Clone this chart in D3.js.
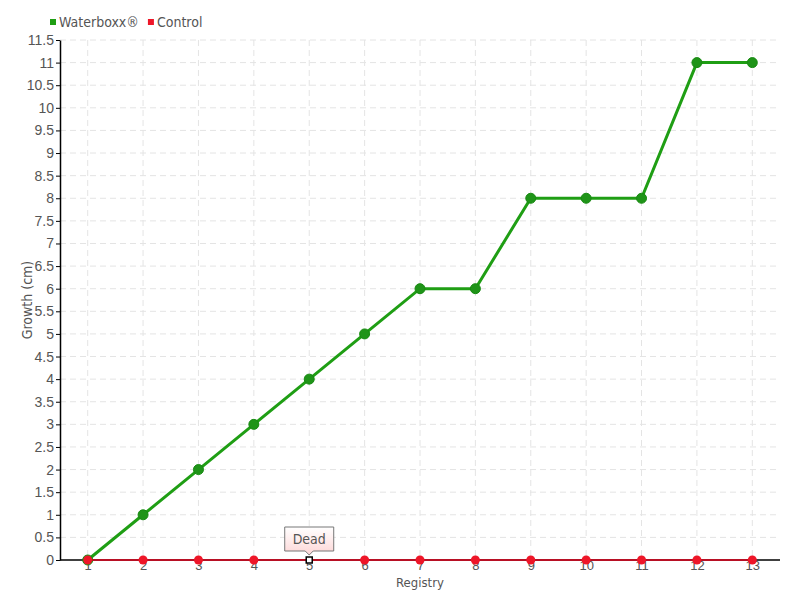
<!DOCTYPE html>
<meta charset="utf-8">
<style>
  body { margin: 0; background: #fff; }
  svg { font-family: "DejaVu Sans", sans-serif; font-stretch: condensed; }
  .grid line { stroke: #e4e4e4; stroke-dasharray: 6,4; }
  .axis text { fill: #555; font-size: 14px; }
  .axis path, .axis line { stroke: #000; }
</style>
<body>
<script src="https://d3js.org/d3.v7.min.js"></script>
<script>
var registry = [1, 2, 3, 4, 5, 6, 7, 8, 9, 10, 11, 12, 13];
var waterboxx = [0, 1, 2, 3, 4, 5, 6, 6, 8, 8, 8, 11, 11];
var control = [0, 0, 0, 0, 0, 0, 0, 0, 0, 0, 0, 0, 0];
var yTicks = d3.range(0, 11.51, 0.5);
var deadAt = 5;

var width = 800, height = 600;
var margin = {top: 40, right: 20, bottom: 40, left: 60};

var svg = d3.select("body").append("svg")
    .attr("width", width).attr("height", height);

var x = d3.scalePoint()
    .domain(registry)
    .range([margin.left, width - margin.right])
    .padding(0.5);

var y = d3.scaleLinear()
    .domain([0, 11.5])
    .range([height - margin.bottom, margin.top]);

// grid
var grid = svg.append("g").attr("class", "grid");
grid.selectAll(".h").data(yTicks.slice(1)).enter().append("line")
    .attr("x1", margin.left).attr("x2", width - margin.right)
    .attr("y1", function(d) { return y(d); }).attr("y2", function(d) { return y(d); });
grid.selectAll(".v").data(registry).enter().append("line")
    .attr("x1", function(d) { return x(d); }).attr("x2", function(d) { return x(d); })
    .attr("y1", margin.top).attr("y2", height - margin.bottom);

// axes
var yAxis = svg.append("g").attr("class", "axis")
    .attr("transform", "translate(" + margin.left + ",0)")
    .call(d3.axisLeft(y).tickValues(yTicks).tickSize(4).tickSizeOuter(0)
      .tickFormat(function(d) { return d3.format("~g")(d); }));
yAxis.select(".domain").attr("stroke-width", 1.5);
yAxis.selectAll("text").attr("x", -6);

var xAxis = svg.append("g").attr("class", "axis")
    .attr("transform", "translate(0," + (height - margin.bottom) + ")")
    .call(d3.axisBottom(x).tickSize(0).tickSizeOuter(0));
xAxis.select(".domain").attr("d", "M" + margin.left + ",0H" + (width - margin.right)).attr("stroke-width", 1.5);
xAxis.selectAll("text").attr("y", 1).attr("dy", "0.71em").style("font-size", "13px");

svg.append("text")
    .attr("x", (margin.left + width - margin.right) / 2).attr("y", 587)
    .attr("text-anchor", "middle").attr("fill", "#555").style("font-size", "13px")
    .text("Registry");
svg.append("text")
    .attr("transform", "translate(32," + ((margin.top + height - margin.bottom) / 2) + ") rotate(-90)")
    .attr("text-anchor", "middle").attr("fill", "#555").style("font-size", "14px")
    .text("Growth (cm)");

// lines
var line = d3.line()
    .x(function(d, i) { return x(registry[i]); })
    .y(function(d) { return y(d); });

svg.append("path").datum(waterboxx)
    .attr("fill", "none").attr("stroke", "#1f9e14").attr("stroke-width", 3)
    .attr("d", line);
svg.selectAll(".wb").data(waterboxx).enter().append("circle")
    .attr("cx", function(d, i) { return x(registry[i]); })
    .attr("cy", function(d) { return y(d); })
    .attr("r", 5).attr("fill", "#1f9418").attr("stroke", "#188a12").attr("stroke-width", 1);

svg.append("path").datum(control)
    .attr("fill", "none").attr("stroke", "#e0001b").attr("stroke-width", 1.5)
    .attr("d", line);

// control markers, skipping the "dead" point which gets a square marker
var ctrlPts = registry.map(function(r, i) { return {r: r, v: control[i]}; })
    .filter(function(p) { return p.r !== deadAt; });
svg.selectAll(".ct").data(ctrlPts).enter().append("circle")
    .attr("cx", function(d) { return x(d.r); })
    .attr("cy", function(d) { return y(d.v); })
    .attr("r", 4.5).attr("fill", "#ee1628");

// dead marker + tooltip
var dx = x(deadAt), dy = y(control[registry.indexOf(deadAt)]);
svg.append("rect")
    .attr("x", dx - 3).attr("y", dy - 3).attr("width", 6).attr("height", 6)
    .attr("fill", "#fff").attr("stroke", "#000").attr("stroke-width", 1.5);

var defs = svg.append("defs");
var grad = defs.append("linearGradient").attr("id", "tipg")
    .attr("x1", 0).attr("y1", 0).attr("x2", 0).attr("y2", 1);
grad.append("stop").attr("offset", "0%").attr("stop-color", "#ffffff");
grad.append("stop").attr("offset", "100%").attr("stop-color", "#fdd6d6");

var tw = 49, th = 24, tb = dy - 9;
svg.append("path")
    .attr("d", "M" + (dx - tw / 2) + "," + (tb - th) + "H" + (dx + tw / 2) + "V" + tb +
      "H" + (dx + 4) + "L" + dx + "," + (tb + 4) + "L" + (dx - 4) + "," + tb +
      "H" + (dx - tw / 2) + "Z")
    .attr("fill", "url(#tipg)").attr("stroke", "#777").attr("stroke-width", 1);
svg.append("text")
    .attr("x", dx).attr("y", tb - th / 2 + 5)
    .attr("text-anchor", "middle").attr("fill", "#555").style("font-size", "14px")
    .text("Dead");

// legend
var legend = [{name: "Waterboxx®", color: "#1f9e14"}, {name: "Control", color: "#ee1628"}];
var lx = 50;
legend.forEach(function(l) {
  svg.append("rect").attr("x", lx).attr("y", 19).attr("width", 6).attr("height", 6).attr("fill", l.color);
  var t = svg.append("text").attr("x", lx + 9).attr("y", 27)
      .attr("fill", "#555").style("font-size", "14px").text(l.name);
  lx += 9 + t.node().getComputedTextLength() + 9;
});
</script>
</body>
